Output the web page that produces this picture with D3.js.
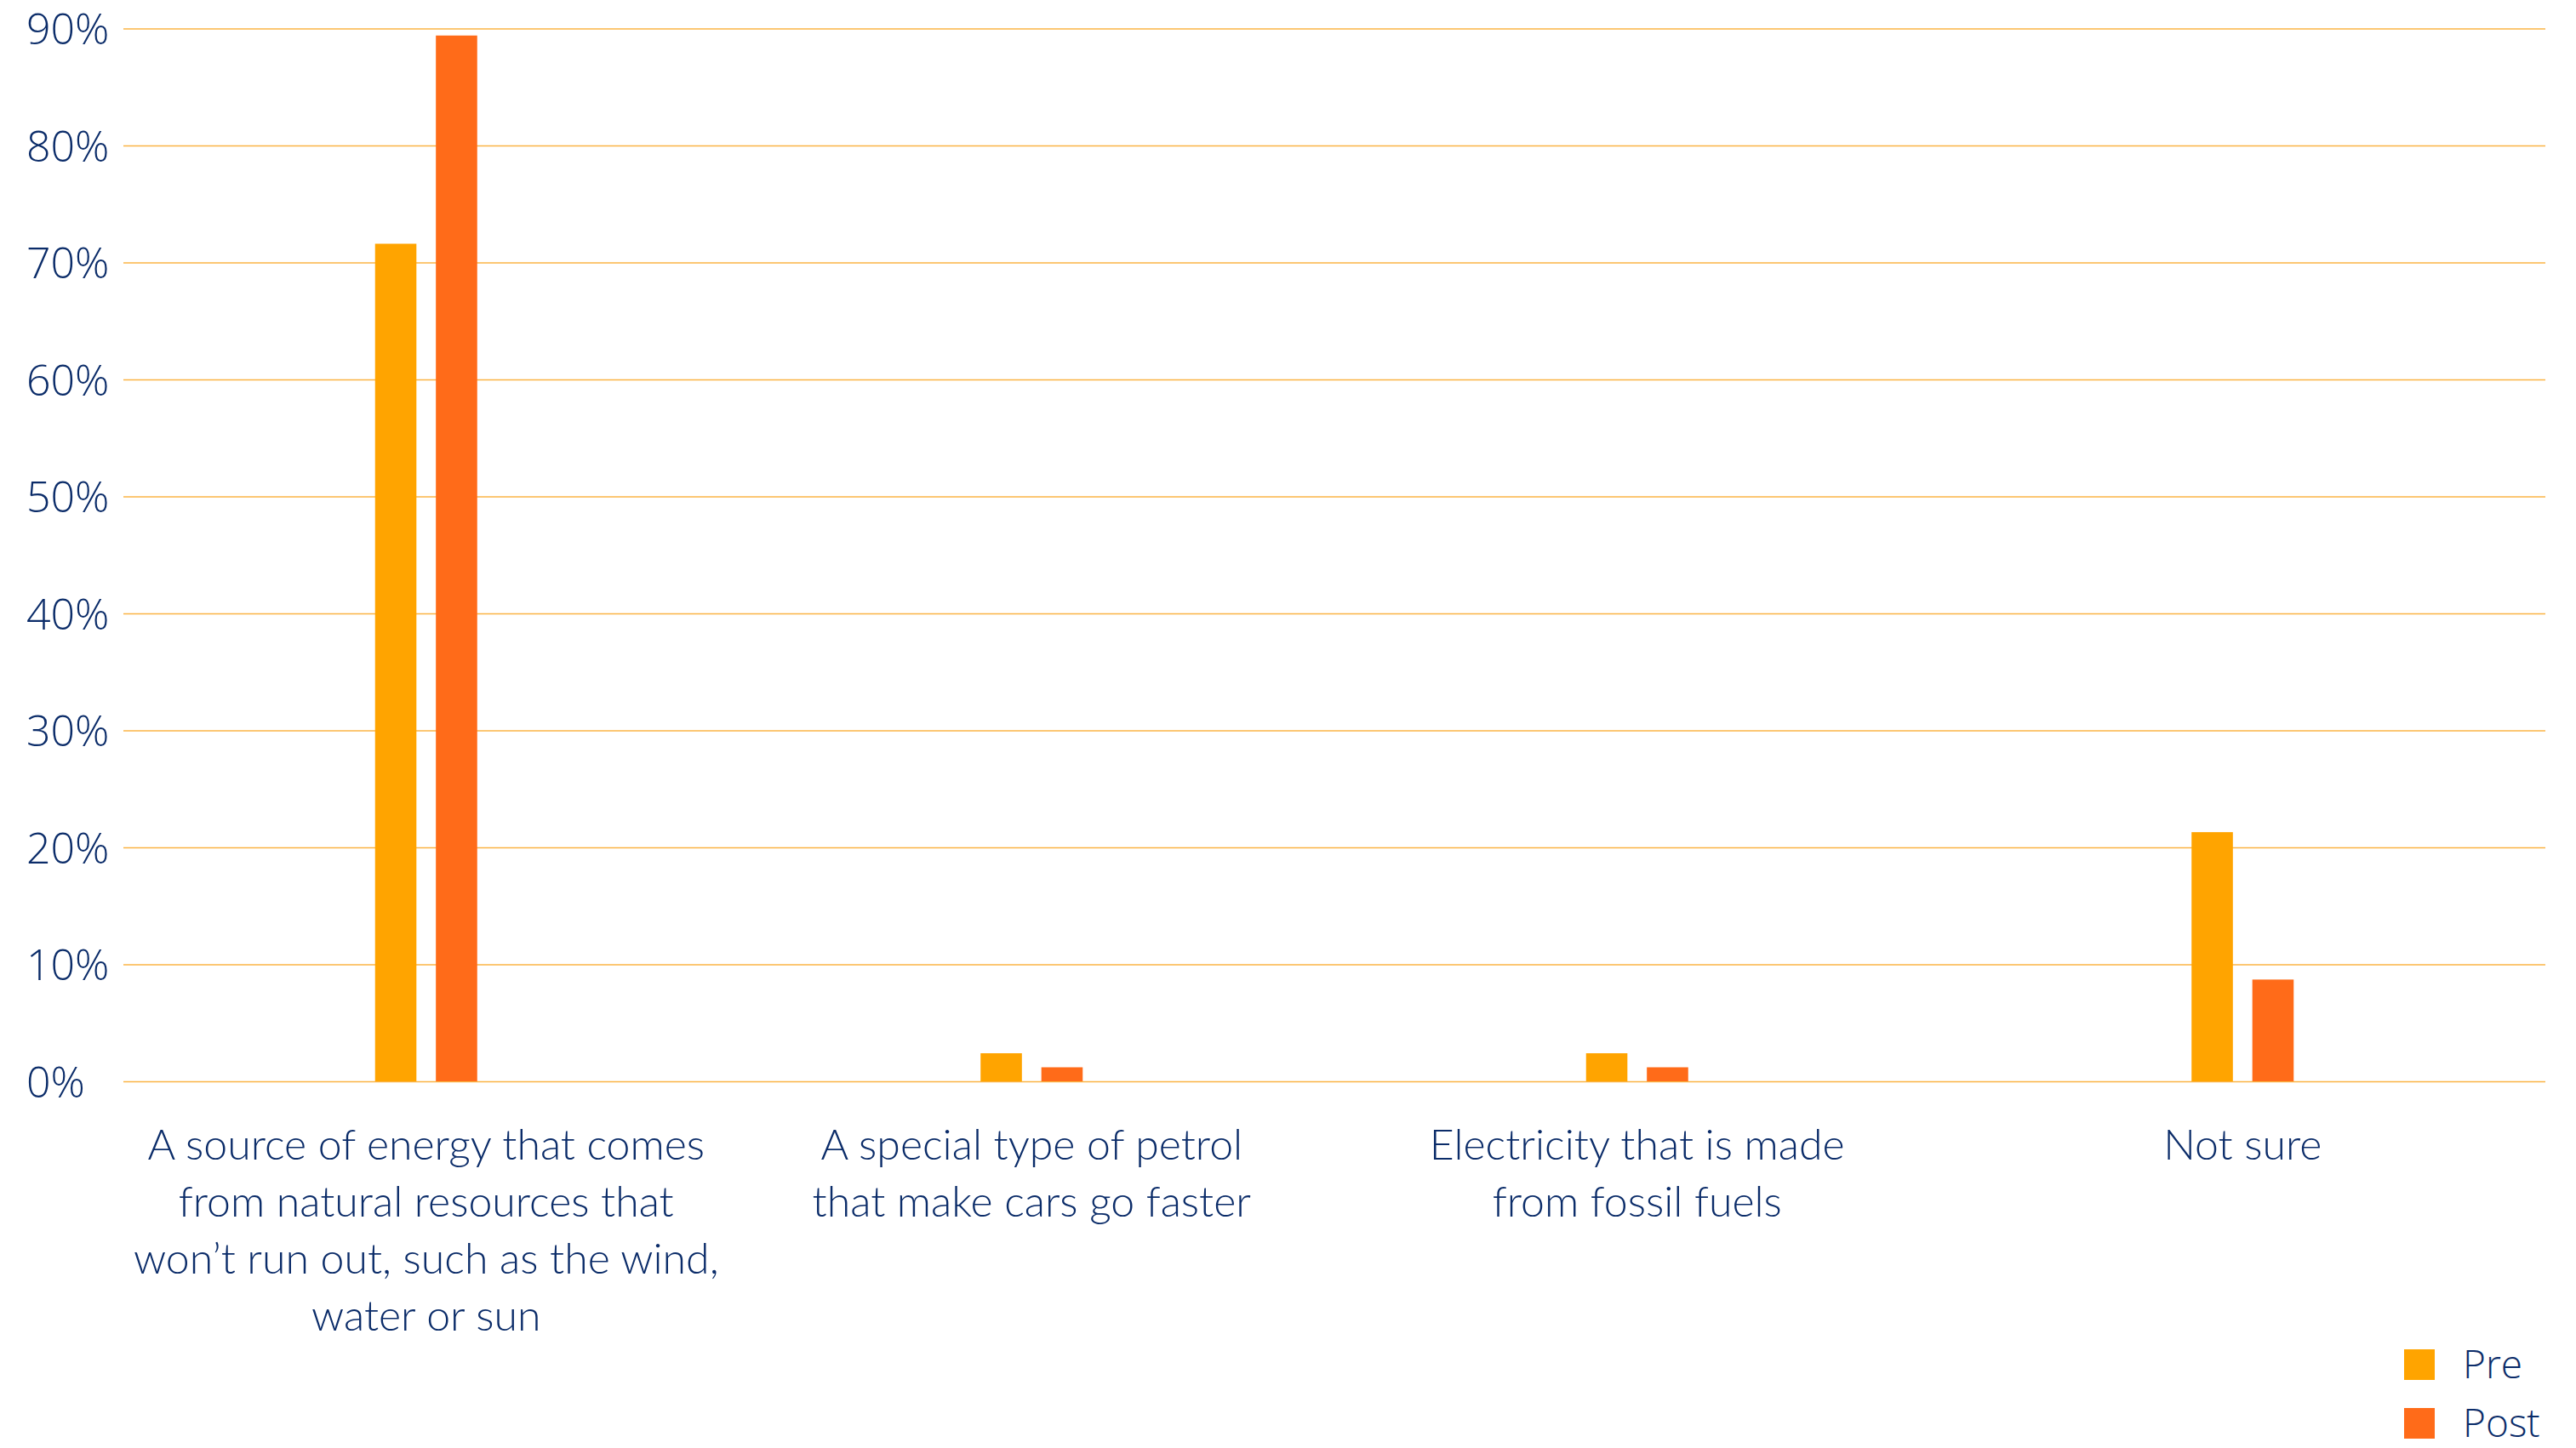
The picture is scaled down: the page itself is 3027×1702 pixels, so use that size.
<!DOCTYPE html>
<html>
<head>
<meta charset="utf-8">
<script src="https://cdn.jsdelivr.net/npm/d3@7"></script>
<style>
  html, body { margin: 0; padding: 0; background: #ffffff; }
  svg { display: block; }
</style>
</head>
<body>
<svg id="chart" width="3027" height="1702"></svg>
<script>
// Answer categories, each split into its display lines
const categories = ["renewable", "petrol", "electricity", "notsure"];
const categoryLines = [
  ["A source of energy that comes", "from natural resources that", "won\u2019t run out, such as the wind,", "water or sun"],
  ["A special type of petrol", "that make cars go faster"],
  ["Electricity that is made", "from fossil fuels"],
  ["Not sure"]
];
const seriesNames = ["Pre", "Post"];
const preValues = [71.6, 2.4, 2.4, 21.3];
const postValues = [89.4, 1.2, 1.2, 8.7];
const yTicks = [0, 10, 20, 30, 40, 50, 60, 70, 80, 90];

const colors = { Pre: "#FFA400", Post: "#FF6B19" };
const textColor = "#0B2C69";

const plot = { left: 145, right: 2991, top: 33.5, bottom: 1271 };

const svg = d3.select("#chart");

const y = d3.scaleLinear().domain([0, 90]).range([plot.bottom, plot.top]);
const x0 = d3.scaleBand().domain(categories).range([plot.left, plot.right]).padding(0);
const bw = x0.bandwidth();
const x1 = d3.scaleBand().domain(seriesNames)
  .range([bw / 2 - 60, bw / 2 + 60]).paddingInner(0.32);

// Horizontal gridlines with percentage labels
const yAxis = d3.axisLeft(y)
  .tickValues(yTicks)
  .tickSize(-(plot.right - plot.left))
  .tickFormat(d => d + "%");

const gy = svg.append("g")
  .attr("transform", `translate(${plot.left},0)`)
  .call(yAxis);
gy.select(".domain").remove();
gy.selectAll(".tick line")
  .attr("stroke", "#FBB444")
  .attr("stroke-width", 1.6);
gy.selectAll(".tick text")
  .attr("x", 31 - plot.left)
  .attr("dy", "0.36em")
  .attr("text-anchor", "start")
  .attr("fill", textColor)
  .style("font-family", "'Open Sans', sans-serif")
  .style("font-weight", 300)
  .style("font-size", "50px");

// Grouped bars
const rows = categories.map((c, i) => ({ cat: c, Pre: preValues[i], Post: postValues[i] }));

const groups = svg.append("g").selectAll("g")
  .data(rows)
  .join("g")
  .attr("transform", d => `translate(${x0(d.cat)},0)`);

groups.selectAll("rect")
  .data(d => seriesNames.map(s => ({ key: s, value: d[s] })))
  .join("rect")
  .attr("x", d => x1(d.key))
  .attr("width", x1.bandwidth())
  .attr("y", d => y(d.value))
  .attr("height", d => y(0) - y(d.value))
  .attr("fill", d => colors[d.key]);

// Category labels under the axis
const labels = svg.append("g").selectAll("text")
  .data(categories)
  .join("text")
  .attr("x", d => x0(d) + bw / 2)
  .attr("y", 1363)
  .attr("text-anchor", "middle")
  .attr("fill", textColor)
  .style("font-family", "Lato, sans-serif")
  .style("font-weight", 300)
  .style("font-size", "50px")
  .style("letter-spacing", "0px");

labels.selectAll("tspan")
  .data((d, i) => categoryLines[i])
  .join("tspan")
  .attr("x", function () { return d3.select(this.parentNode).attr("x"); })
  .attr("dy", (d, i) => i === 0 ? 0 : 67)
  .text(d => d);

// Legend, bottom right
const legend = svg.append("g").selectAll("g")
  .data(seriesNames)
  .join("g")
  .attr("transform", (d, i) => `translate(2825,${1586 + i * 69})`);

legend.append("rect")
  .attr("width", 36)
  .attr("height", 36)
  .attr("fill", d => colors[d]);

legend.append("text")
  .attr("x", 69)
  .attr("y", 34)
  .attr("fill", textColor)
  .style("font-family", "'Open Sans', sans-serif")
  .style("font-weight", 300)
  .style("font-size", "46px")
  .text(d => d);
</script>
</body>
</html>
